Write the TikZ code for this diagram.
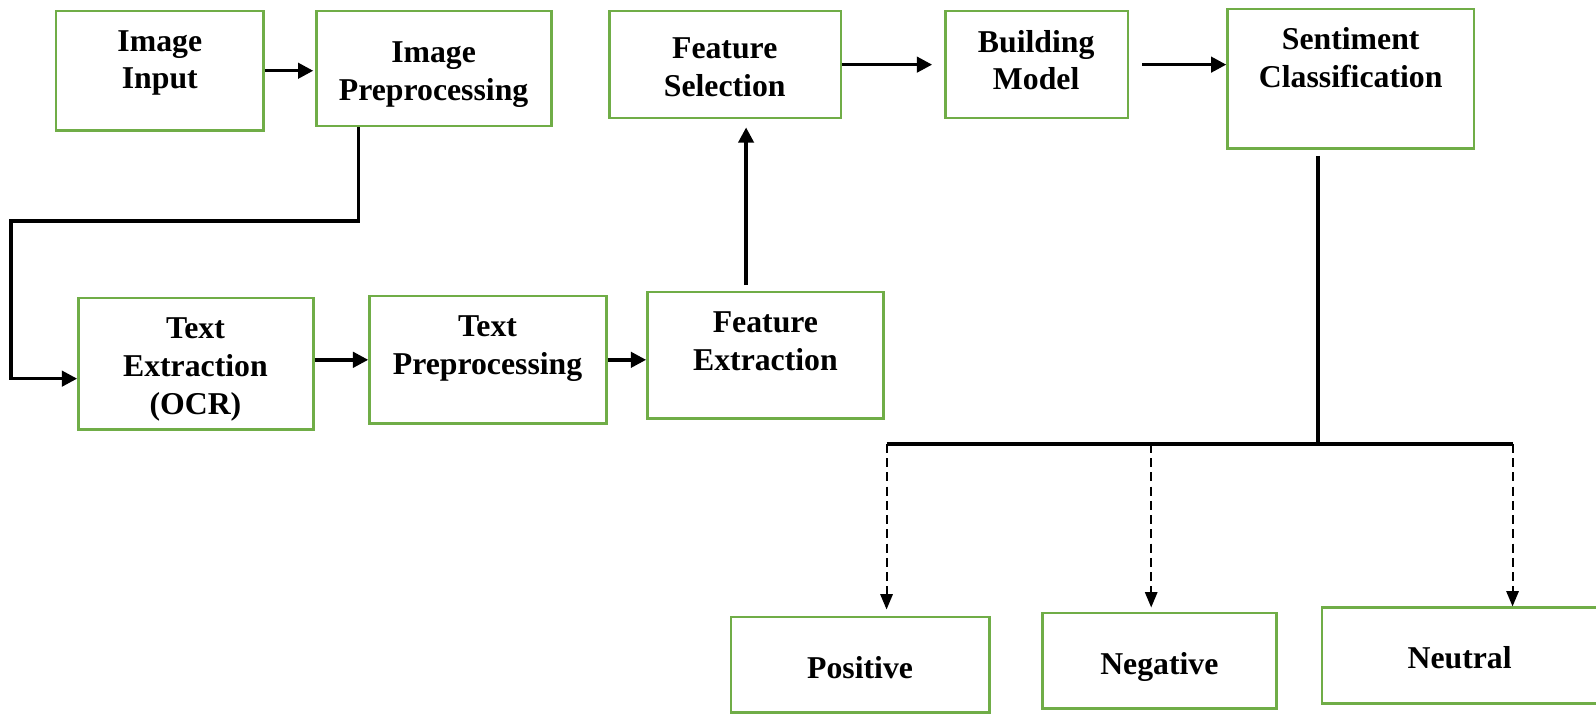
\documentclass[tikz,border=0pt]{standalone}
\usepackage{fontspec}
\setmainfont{Liberation Serif}
\usetikzlibrary{arrows.meta,calc}
\definecolor{boxgreen}{RGB}{112,173,71}
\begin{document}
\begin{tikzpicture}[x=0.5pt,y=-0.5pt,
  box/.style={draw=boxgreen, line width=1.2pt, inner sep=0pt},
  lbl/.style={font=\bfseries\fontsize{15.6}{18.5}\selectfont, align=center, inner sep=0pt},
  conn/.style={line width=1.7pt},
  arr/.style={conn, -{Triangle[length=7.5pt,width=7.5pt]}},
  darr/.style={line width=1pt, dash pattern=on 4.5pt off 2.5pt, -{Triangle[length=7.5pt,width=6pt]}}]
\useasboundingbox (0,0) rectangle (1568,702);

% boxes
\node[box, minimum width=102pt, minimum height=58.5pt] (ii) at (157,69.5) {};
\node[box, minimum width=115.5pt, minimum height=56.5pt] (ip) at (426.5,67.5) {};
\node[box, minimum width=113.5pt, minimum height=52.5pt] (fs) at (712.5,63.5) {};
\node[box, minimum width=89.5pt, minimum height=52.5pt] (bm) at (1018.5,63.5) {};
\node[box, minimum width=121pt, minimum height=68.5pt] (sc) at (1327,77.5) {};
\node[box, minimum width=115.5pt, minimum height=64.5pt] (te) at (192.5,357.5) {};
\node[box, minimum width=116.5pt, minimum height=62.5pt] (tp) at (479.5,353.5) {};
\node[box, minimum width=116pt, minimum height=62pt] (fe) at (752,349) {};
\node[box, minimum width=127pt, minimum height=47pt] (pos) at (845,653) {};
\node[box, minimum width=115pt, minimum height=47pt] (neg) at (1139,649) {};
\node[box, minimum width=150.5pt, minimum height=47pt] (neu) at (1449.5,644) {};

% labels
\node[lbl] (tii) at (157,62) {Image\\Input};
\node[lbl] (tip) at (426,73) {Image\\Preprocessing};
\node[lbl] (tfs) at (712,66) {Feature\\Selection};
\node[lbl] (tbm) at (1018,59) {Building\\Model};
\node[lbl] (tsc) at (1327,56.5) {Sentiment\\Classification};
\node[lbl] (tte) at (192,363) {Text\\Extraction\\(OCR)};
\node[lbl] (ttp) at (479,342.5) {Text\\Preprocessing};
\node[lbl] (tfe) at (752,335.5) {Feature\\Extraction};
\node[lbl] (tpos) at (845,656) {Positive};
\node[lbl] (tneg) at (1139,655.5) {Negative};
\node[lbl] (tneu) at (1434,646) {Neutral};

% helper coordinates
\coordinate (k1) at (352,217);
\coordinate (k2) at (11,217);
\coordinate (k3) at (11,372);
\coordinate (u1) at (733,280);
\coordinate (j) at (1295,436);
\coordinate (hl) at (871,436);
\coordinate (hm) at (1131,436);
\coordinate (hr) at (1486,436);

% connectors
\draw[arr, shorten >=1pt] (ii.east) -- (ii.east -| ip.west);
\draw[arr, line join=miter] (ip.south -| k1) -- (k1) -- (k2) -- (k3) -- (k3 -| te.west);
\draw[arr] (te.east |- tp.west) -- (tp.west);
\draw[arr] (tp.east) -- (tp.east -| fe.west);
\draw[arr, shorten >=4pt] (u1) -- (u1 |- fs.south);
\draw[arr, shorten >=6pt] (fs.east) -- (fs.east -| bm.west);
\draw[arr, shorten <=6.5pt] (bm.east) -- (bm.east -| sc.west);
\draw[conn, shorten <=3pt] (sc.south -| j) -- (j);
\draw[conn] (hl) -- (hr);
\draw[darr, shorten >=3pt] (hl) -- (hl |- pos.north);
\draw[darr, shorten >=2pt] (hm) -- (hm |- neg.north);
\draw[darr] (hr) -- (hr |- neu.north);
\end{tikzpicture}
\end{document}
